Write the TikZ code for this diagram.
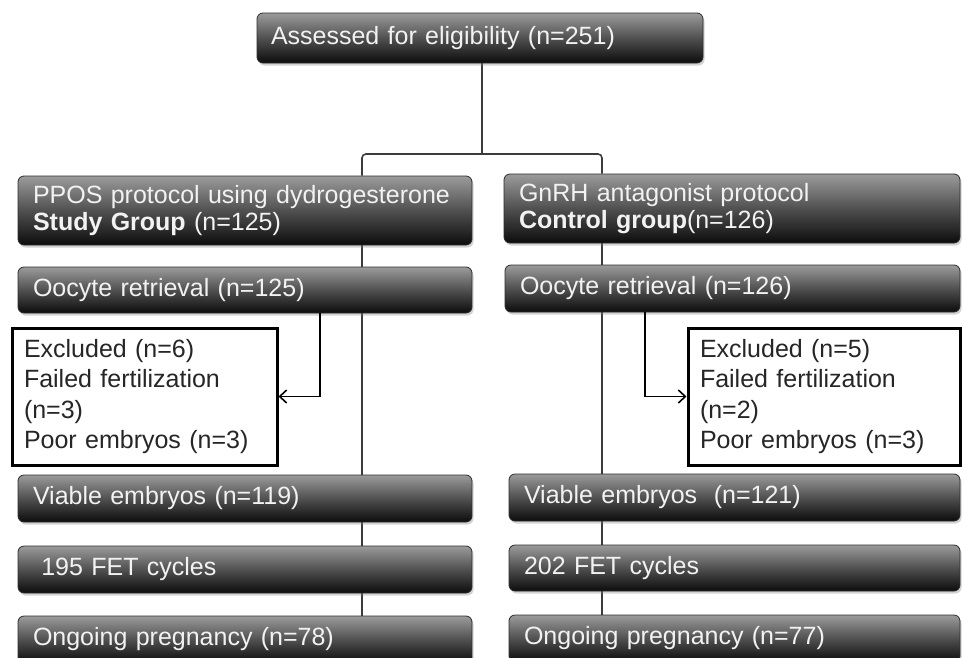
\documentclass[tikz,border=0pt]{standalone}
\usepackage{fontspec}
\setmainfont{Liberation Sans}
\usetikzlibrary{shadows,arrows.meta,backgrounds}
\definecolor{boxtop}{RGB}{155,155,155}
\definecolor{boxmid}{RGB}{80,80,80}
\definecolor{boxbot}{RGB}{12,12,12}
\definecolor{boxedge}{RGB}{45,45,45}
\definecolor{boxtext}{RGB}{242,242,242}
\definecolor{connc}{RGB}{60,60,60}
\begin{document}
\begin{tikzpicture}[x=1pt,y=-1pt,
  darkbox/.style={draw=boxedge, line width=0.8pt, rounded corners=6pt,
    top color=boxtop, bottom color=boxbot, middle color=boxmid,
    drop shadow={shadow xshift=1.5pt, shadow yshift=-2.5pt, opacity=0.35},
    text=boxtext, font=\fontsize{25}{27}\selectfont, align=left,
    inner xsep=14pt, inner ysep=0pt, anchor=center},
  exclbox/.style={draw=black, line width=3pt, fill=white,
    drop shadow={shadow xshift=1pt, shadow yshift=-1.5pt, opacity=0.25},
    text=black!85, font=\fontsize{25}{30.5}\selectfont, align=left,
    inner xsep=12pt, inner ysep=0pt, anchor=center},
  conn/.style={draw=connc, line width=1.6pt},
  arr/.style={draw=black, line width=1.6pt, -{Straight Barb[length=7pt,width=13pt,line width=1.6pt]}},
]
\path[use as bounding box, clip] (0,0) rectangle (962,657);

% top
\node[darkbox, minimum width=446pt, text width=418pt, minimum height=50pt] (top) at (480,38) {Assessed for eligibility (n=251)};

% left column
\node[darkbox, minimum width=454pt, text width=424pt, minimum height=69pt] (ppos) at (245,210.5)
  {PPOS protocol using dydrogesterone\\\textbf{Study Group} (n=125)};
\node[darkbox, minimum width=454pt, text width=424pt, minimum height=46pt] (loo) at (245,290)
  {Oocyte retrieval (n=125)};
\node[exclbox, minimum width=265pt, text width=241pt, minimum height=137pt] (lexc) at (144.5,396.5)
  {Excluded (n=6)\\Failed fertilization\\(n=3)\\Poor embryos (n=3)};
\node[darkbox, minimum width=454pt, text width=424pt, minimum height=47pt] (lvia) at (245,498.5)
  {Viable embryos (n=119)};
\node[darkbox, minimum width=454pt, text width=424pt, minimum height=47pt] (lfet) at (245,569.5)
  {\ 195 FET cycles};
\node[darkbox, minimum width=454pt, text width=424pt, minimum height=47pt] (lon) at (245,639.5)
  {Ongoing pregnancy (n=78)};

% right column
\node[darkbox, minimum width=456pt, text width=426pt, minimum height=69pt] (ctrl) at (732,208.5)
  {GnRH antagonist protocol\\\textbf{Control group}(n=126)};
\node[darkbox, minimum width=455pt, text width=425pt, minimum height=47pt] (roo) at (732.5,288.5)
  {Oocyte retrieval (n=126)};
\node[exclbox, minimum width=272pt, text width=248pt, minimum height=137pt] (rexc) at (824,396.5)
  {Excluded (n=5)\\Failed fertilization\\(n=2)\\Poor embryos (n=3)};
\node[darkbox, minimum width=451pt, text width=421pt, minimum height=47pt] (rvia) at (734.5,497.5)
  {Viable embryos\ \ (n=121)};
\node[darkbox, minimum width=451pt, text width=421pt, minimum height=46pt] (rfet) at (734.5,568)
  {202 FET cycles};
\node[darkbox, minimum width=451pt, text width=421pt, minimum height=47pt] (ron) at (734.5,638.5)
  {Ongoing pregnancy (n=77)};

\coordinate (split) at (482,154);
\coordinate (lx) at (362,154);
\coordinate (rx) at (602,154);
\coordinate (la) at (320,0);
\coordinate (ra) at (645,0);

\begin{scope}[on background layer]
\draw[conn] (top.south -| split) -- (split);
\draw[conn, rounded corners=4pt] (lx |- ppos.north) |- (split) -| (rx |- ctrl.north);
\draw[conn] (lx |- ppos.south) -- (lx |- loo.north);
\draw[conn] (lx |- loo.south) -- (lx |- lvia.north);
\draw[conn] (lx |- lvia.south) -- (lx |- lfet.north);
\draw[conn] (lx |- lfet.south) -- (lx |- lon.north);
\draw[conn] (rx |- ctrl.south) -- (rx |- roo.north);
\draw[conn] (rx |- roo.south) -- (rx |- rvia.north);
\draw[conn] (rx |- rvia.south) -- (rx |- rfet.north);
\draw[conn] (rx |- rfet.south) -- (rx |- ron.north);
\end{scope}

\draw[arr] (la |- loo.south) |- (lexc.east);
\draw[arr] (ra |- roo.south) |- (rexc.west);
\end{tikzpicture}
\end{document}
